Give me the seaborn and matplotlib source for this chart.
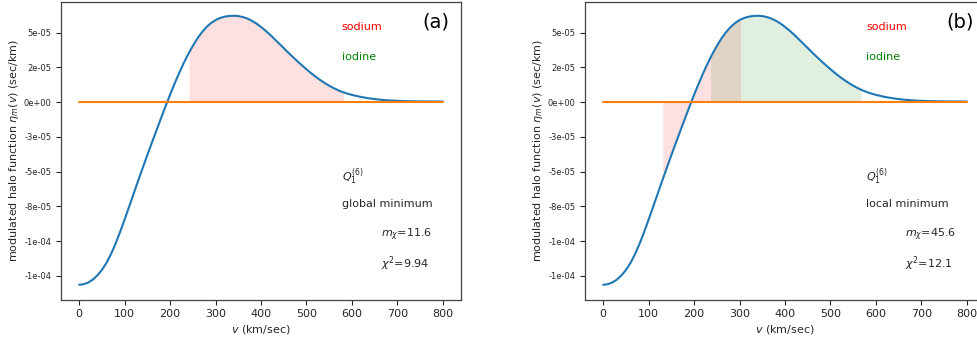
import matplotlib
matplotlib.use("Agg")
import matplotlib.pyplot as plt
import seaborn as sns
import numpy as np
import pandas as pd

# ---- data (eta in units of 1e-5 sec/km) ----
v_kms = [0, 10, 20, 30, 40, 50, 60, 70, 80, 90, 100, 110, 120, 130, 131, 140, 150,
         160, 170, 180, 190, 200, 210, 220, 230, 236, 240, 242, 250, 260, 270, 280,
         290, 300, 302, 310, 320, 330, 340, 350, 360, 370, 380, 390, 400, 410, 420,
         430, 440, 450, 460, 470, 480, 490, 500, 510, 520, 530, 540, 550, 560, 567,
         570, 580, 582, 590, 600, 620, 640, 660, 680, 700, 720, 750, 800]
eta_e5 = [-13.14, -13.10, -12.98, -12.77, -12.47, -12.08, -11.57, -10.94, -10.19,
          -9.35, -8.45, -7.52, -6.58, -5.64, -5.55, -4.72, -3.81, -2.92, -2.04,
          -1.17, -0.31, 0.53, 1.33, 2.09, 2.80, 3.19, 3.45, 3.57, 4.04, 4.57, 5.02,
          5.395, 5.685, 5.90, 5.93, 6.05, 6.145, 6.195, 6.21, 6.19, 6.12, 6.01, 5.85,
          5.65, 5.41, 5.14, 4.85, 4.53, 4.21, 3.89, 3.56, 3.25, 2.945, 2.65, 2.365,
          2.09, 1.835, 1.595, 1.38, 1.18, 1.005, 0.90, 0.85, 0.72, 0.70, 0.61, 0.52,
          0.37, 0.26, 0.18, 0.125, 0.09, 0.07, 0.05, 0.04]
baseline_v = [0, 800]
baseline_eta = [0.0, 0.0]

sodium_range_a = [242, 582]
sodium_range_b = [131, 302]
iodine_range_b = [236, 567]

panel_labels = ["(a)", "(b)"]
minimum_labels = ["global minimum", "local minimum"]
mass_values = ["11.6", "45.6"]
chi2_values = ["9.94", "12.1"]

ytick_values = [-1.25e-4, -1.0e-4, -7.5e-5, -5.0e-5, -2.5e-5, 0.0, 2.5e-5, 5.0e-5]
ytick_labels = ["-1e-04", "-1e-04", "-8e-05", "-5e-05", "-3e-05", "0e+00", "2e-05", "5e-05"]
xtick_values = [0, 100, 200, 300, 400, 500, 600, 700, 800]

df = pd.DataFrame({"v": v_kms, "eta": np.array(eta_e5) * 1e-5})
base = pd.DataFrame({"v": baseline_v, "eta": baseline_eta})

sns.set_theme(style="ticks")
plt.rcParams["font.family"] = ["DejaVu Sans"]

fig = plt.figure(figsize=(9.77, 3.41), dpi=100)
ax_a = fig.add_axes([0.0624, 0.1217, 0.4094, 0.8724])
ax_b = fig.add_axes([0.5988, 0.1217, 0.4094, 0.8724])

fills = [
    [(sodium_range_a, "red")],
    [(sodium_range_b, "red"), (iodine_range_b, "green")],
]

for i, ax in enumerate([ax_a, ax_b]):
    sns.lineplot(data=df, x="v", y="eta", ax=ax, color="tab:blue", linewidth=1.5,
                 sort=False, estimator=None)
    sns.lineplot(data=base, x="v", y="eta", ax=ax, color="tab:orange", linewidth=1.5,
                 sort=False, estimator=None)
    for rng, col in fills[i]:
        sub = df[(df.v >= rng[0]) & (df.v <= rng[1])]
        ax.fill_between(sub.v, 0, sub.eta, color=col, alpha=0.12, linewidth=0)

    ax.set_xlim(-40, 840)
    ax.set_ylim(-1.42e-4, 7.2e-5)
    ax.set_xticks(xtick_values)
    ax.set_yticks(ytick_values)
    ax.set_yticklabels(ytick_labels)
    ax.tick_params(axis="x", labelsize=8, length=3.5, width=0.8)
    ax.tick_params(axis="y", labelsize=6, length=3.5, width=0.8)
    for s in ax.spines.values():
        s.set_linewidth(0.9)
        s.set_color("#444444")
    ax.set_xlabel(r"$v$ (km/sec)", fontsize=8, labelpad=3)
    ax.set_ylabel(r"modulated halo function $\eta_m(v)$ (sec/km)", fontsize=8, labelpad=2)

    ax.text(578, 5.39e-5, "sodium", color="red", fontsize=8, va="center", ha="left")
    ax.text(578, 3.24e-5, "iodine", color="green", fontsize=8, va="center", ha="left")
    ax.text(755, 5.75e-5, panel_labels[i], color="black", fontsize=14, va="center", ha="left")
    ax.text(578, -5.35e-5, r"$Q_1^{(6)}$", fontsize=8, va="center", ha="left")
    ax.text(578, -7.36e-5, minimum_labels[i], fontsize=8, va="center", ha="left")
    ax.text(665, -9.58e-5, r"$m_\chi$=" + mass_values[i], fontsize=8, va="center", ha="left")
    ax.text(665, -11.65e-5, r"$\chi^2$=" + chi2_values[i], fontsize=8, va="center", ha="left")

fig.savefig("out.png", dpi=100)
